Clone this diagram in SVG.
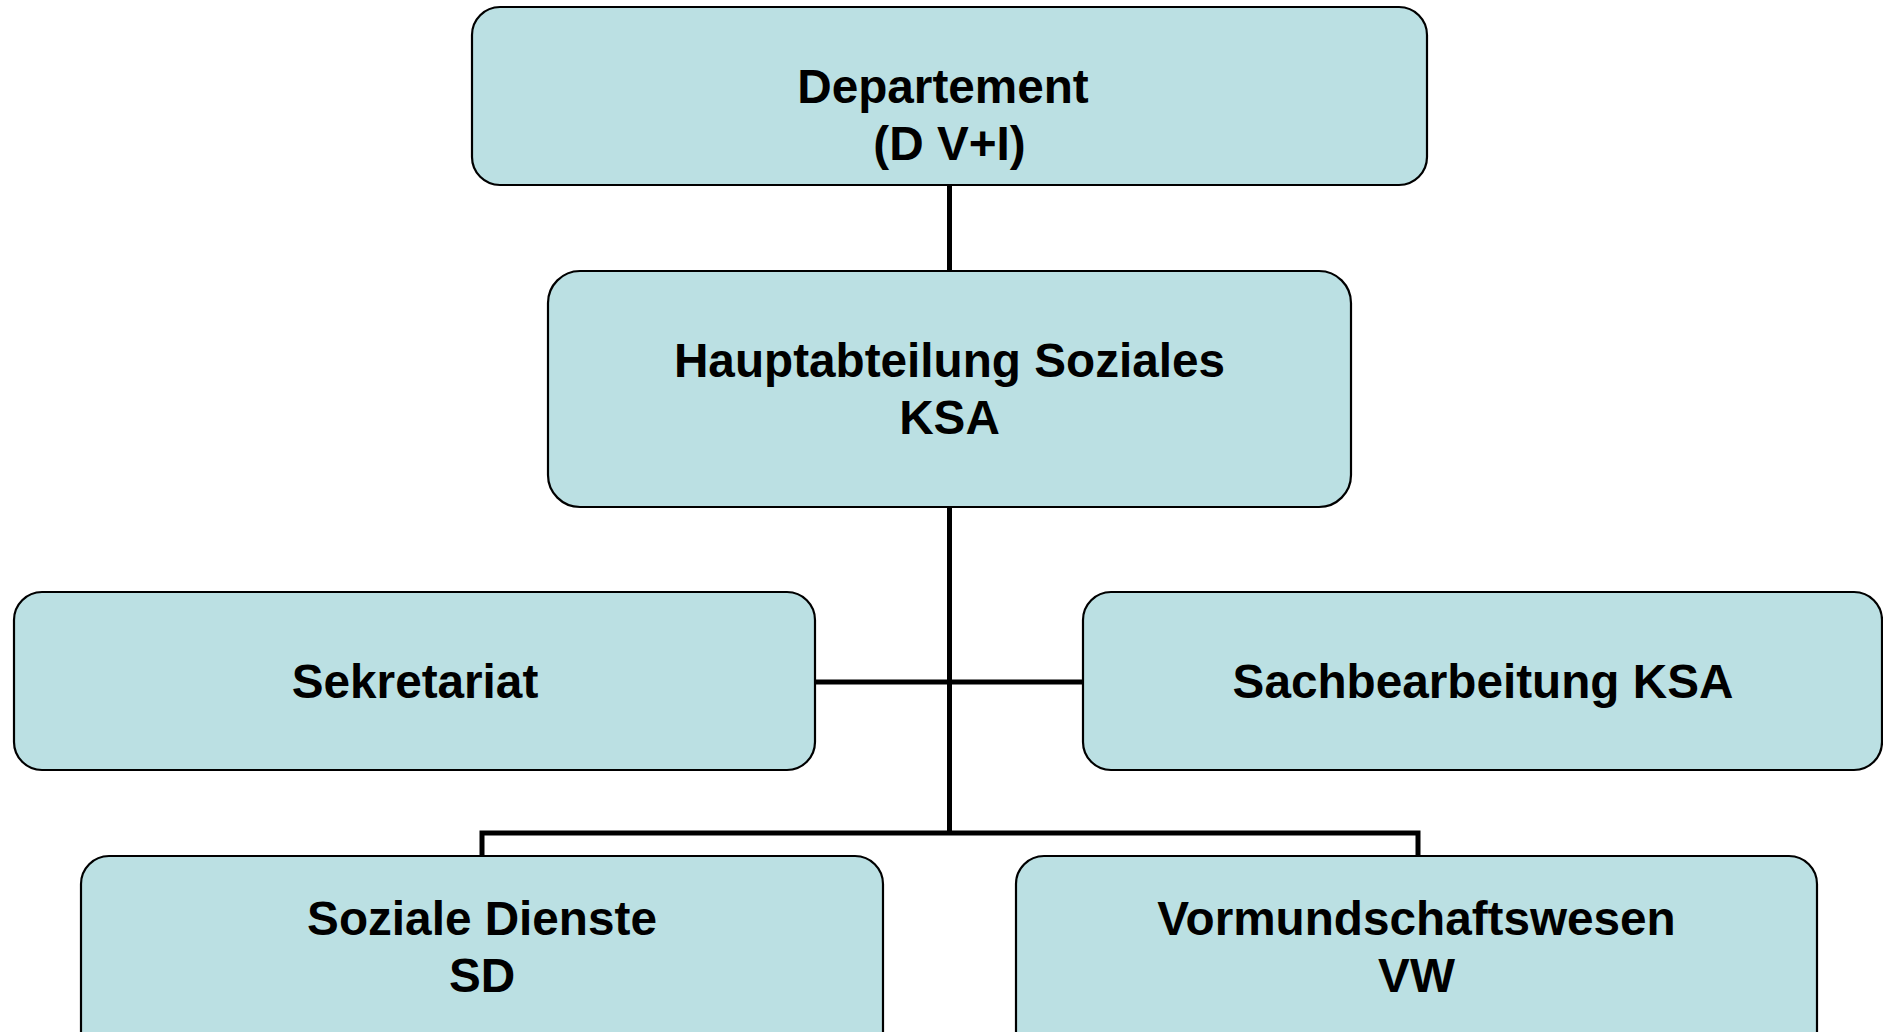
<svg xmlns="http://www.w3.org/2000/svg" width="1883" height="1032" viewBox="0 0 1883 1032">
<style>
.box{fill:#BBE0E3;stroke:#000;stroke-width:2.2}
.lbl{font-family:"Liberation Sans",Arial,sans-serif;font-weight:bold;font-size:47.7px;fill:#000;text-anchor:middle}
.conn{stroke:#000;stroke-width:5;fill:none}
</style>
<rect width="1883" height="1032" fill="#fff"/>
<g id="connectors">
<line class="conn" x1="949.5" y1="185" x2="949.5" y2="271"/>
<line class="conn" x1="949.5" y1="507" x2="949.5" y2="835"/>
<line class="conn" x1="815" y1="682" x2="1083" y2="682"/>
<polyline class="conn" points="482,856 482,833 1418,833 1418,856"/>
</g>
<g id="departement">
<rect class="box" x="472" y="7" width="955" height="178" rx="28"/>
<text class="lbl" x="943" y="103">Departement</text>
<text class="lbl" x="949.5" y="160">(D V+I)</text>
</g>
<g id="hauptabteilung">
<rect class="box" x="548" y="271" width="803" height="236" rx="32"/>
<text class="lbl" x="949.5" y="377">Hauptabteilung Soziales</text>
<text class="lbl" x="949.5" y="434">KSA</text>
</g>
<g id="sekretariat">
<rect class="box" x="14" y="592" width="801" height="178" rx="28"/>
<text class="lbl" x="415" y="698">Sekretariat</text>
</g>
<g id="sachbearbeitung">
<rect class="box" x="1083" y="592" width="799" height="178" rx="28"/>
<text class="lbl" x="1483" y="698">Sachbearbeitung KSA</text>
</g>
<g id="soziale-dienste">
<rect class="box" x="81" y="856" width="802" height="210" rx="28"/>
<text class="lbl" x="482" y="935">Soziale Dienste</text>
<text class="lbl" x="482" y="992">SD</text>
</g>
<g id="vormundschaftswesen">
<rect class="box" x="1016" y="856" width="801" height="210" rx="28"/>
<text class="lbl" x="1416.5" y="935">Vormundschaftswesen</text>
<text class="lbl" x="1416.5" y="992">VW</text>
</g>
</svg>
